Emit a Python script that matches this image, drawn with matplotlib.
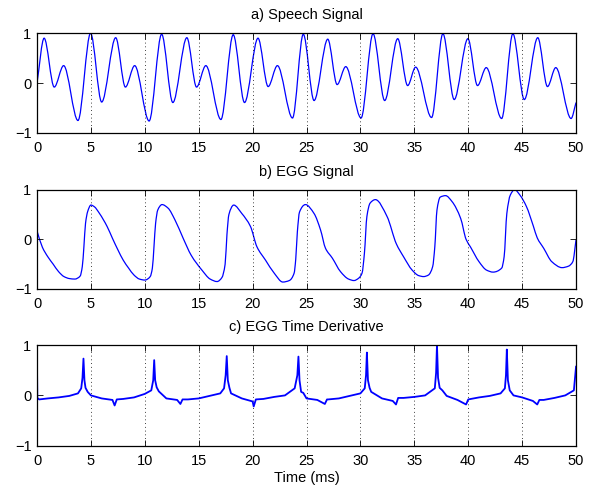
import numpy as np
import matplotlib
matplotlib.use('Agg')
import matplotlib.pyplot as plt
from matplotlib.path import Path
from matplotlib.patches import PathPatch

plt.rcParams['font.family'] = ['Liberation Sans', 'DejaVu Sans']

# a) speech signal, extrema (ms, amplitude)
speech_t = [0, 0.66, 1.6, 2.47, 3.8, 4.97, 6.0, 7.3, 8.2, 9.06, 10.4, 11.56,
            12.6, 13.9, 14.8, 15.66, 17.06, 18.2, 19.25, 20.5, 21.44, 22.3,
            23.7, 24.7, 25.7, 26.97, 27.84, 28.64, 30.06, 31.17, 32.25, 33.46,
            34.38, 35.12, 36.6, 37.65, 38.7, 39.97, 40.86, 41.67, 43.1, 44.14,
            45.2, 46.45, 47.35, 48.12, 49.54, 50]
speech_v = [0.0, 0.9, -0.08, 0.35, -0.75, 1.0, -0.38, 0.91, -0.08, 0.35, -0.76,
            0.98, -0.39, 0.91, -0.08, 0.35, -0.73, 0.97, -0.39, 0.9, -0.07,
            0.35, -0.7, 0.98, -0.35, 0.88, -0.03, 0.33, -0.7, 0.99, -0.35,
            0.89, -0.05, 0.32, -0.69, 0.99, -0.33, 0.89, -0.05, 0.31, -0.71,
            0.99, -0.33, 0.91, -0.07, 0.31, -0.71, -0.39]

# b) EGG signal
egg_t = [0, 0.5, 1.0, 1.5, 2.0, 2.5, 3.0, 3.5, 4.0, 4.2, 4.35, 4.5, 4.7, 5.0,
         5.3, 5.8, 6.5, 7.0, 7.5, 8.0, 8.5, 9.0, 9.5, 10.0, 10.5, 10.7, 10.85,
         11.0, 11.2, 11.6, 12.15, 12.8, 13.56, 14.3, 15.3, 16.06, 16.7, 17.15,
         17.45, 17.62, 17.8, 18.25, 19.0, 19.8, 20.4, 21.2, 22.0, 22.8, 23.4,
         23.85, 24.0, 24.15, 24.35, 24.9, 25.7, 26.3, 26.76, 27.4, 28.15, 28.9,
         29.4, 29.85, 30.15, 30.37, 30.6, 30.9, 31.39, 32.47, 33.33, 34.0,
         34.8, 35.4, 35.86, 36.3, 36.7, 36.9, 37.1, 37.4, 37.9, 38.5, 39.3,
         39.8, 40.2, 41.0, 41.7, 42.3, 43.1, 43.33, 43.58, 43.9, 44.3, 44.8,
         45.4, 46.05, 46.4, 47.0, 47.75, 48.7, 49.3, 49.7, 50]
egg_v = [0.17, -0.16, -0.35, -0.5, -0.65, -0.75, -0.79, -0.8, -0.74, -0.55,
         -0.15, 0.32, 0.56, 0.69, 0.66, 0.52, 0.26, 0.02, -0.21, -0.42, -0.58,
         -0.72, -0.8, -0.82, -0.75, -0.58, -0.15, 0.32, 0.59, 0.7, 0.63, 0.39,
         0.02, -0.32, -0.62, -0.8, -0.85, -0.77, -0.5, 0.1, 0.5, 0.69, 0.52,
         0.26, -0.15, -0.42, -0.68, -0.86, -0.83, -0.68, -0.4, 0.15, 0.55,
         0.7, 0.52, 0.19, -0.18, -0.38, -0.65, -0.8, -0.83, -0.78, -0.68,
         -0.28, 0.46, 0.73, 0.8, 0.46, -0.09, -0.35, -0.62, -0.73, -0.75,
         -0.72, -0.55, -0.15, 0.59, 0.85, 0.88, 0.76, 0.42, 0.0, -0.15, -0.45,
         -0.62, -0.66, -0.58, -0.35, 0.52, 0.89, 1.0, 0.89, 0.66, 0.26, 0.03,
         -0.18, -0.45, -0.57, -0.54, -0.45, -0.01]

# c) EGG time derivative
deg_t = [0, 0.03, 0.2, 1.0, 2.0, 3.0, 3.8, 4.1, 4.22, 4.31, 4.4, 4.5, 4.7,
         5.0, 6.0, 7.0, 7.2, 7.4, 8.0, 9.0, 10.0, 10.6, 10.78, 10.87, 10.96,
         11.1, 11.3, 12.0, 13.0, 13.3, 13.5, 14.0, 15.0, 16.0, 17.0, 17.35,
         17.5, 17.6, 17.7, 17.85, 18.0, 19.0, 20.0, 20.1, 20.3, 21.0, 22.0,
         23.0, 23.9, 24.15, 24.25, 24.35, 24.5, 24.7, 25.0, 26.0, 26.7, 26.9,
         27.0, 28.0, 29.0, 30.0, 30.4, 30.52, 30.6, 30.7, 30.85, 31.0, 32.0,
         33.0, 33.3, 33.5, 34.0, 35.0, 36.0, 36.9, 37.02, 37.1, 37.2, 37.35,
         37.6, 38.0, 39.0, 39.8, 40.0, 41.0, 42.0, 43.0, 43.4, 43.5, 43.58,
         43.68, 43.85, 44.2, 45.0, 46.0, 46.4, 46.6, 47.0, 48.0, 49.0, 49.8,
         50]
deg_v = [0.6, -0.05, -0.08, -0.06, -0.04, -0.01, 0.04, 0.14, 0.35, 0.73,
         0.3, 0.15, 0.07, 0.0, -0.06, -0.09, -0.2, -0.08, -0.07, -0.04, 0.03,
         0.1, 0.3, 0.7, 0.3, 0.16, 0.08, -0.06, -0.09, -0.17, -0.08, -0.08,
         -0.06, -0.01, 0.04, 0.14, 0.4, 0.78, 0.3, 0.15, 0.04, -0.06, -0.12,
         -0.22, -0.08, -0.07, -0.03, 0.0, 0.14, 0.4, 0.77, 0.3, 0.07, 0.05,
         -0.06, -0.09, -0.17, -0.08, -0.08, -0.06, -0.01, 0.04, 0.14, 0.4,
         0.85, 0.3, 0.15, 0.07, -0.06, -0.11, -0.18, -0.05, -0.05, -0.03,
         0.0, 0.14, 0.45, 1.0, 0.35, 0.15, 0.1, -0.01, -0.09, -0.18, -0.08,
         -0.04, -0.01, 0.04, 0.14, 0.4, 0.91, 0.3, 0.1, 0.0, -0.04, -0.11,
         -0.18, -0.09, -0.09, -0.05, 0.0, 0.1, 0.57]

titles = ['a) Speech Signal', 'b) EGG Signal', 'c) EGG Time Derivative']
x_ticks = list(range(0, 51, 5))
y_ticks = [-1, 0, 1]

BLUE = '#0000ff'


def smooth_curve(ax, xs, ys, lw=0.9):
    '''
    Draws a smooth line through the read points with cubic Bezier
    segments (flat at the turning points, like a monotone spline).
    '''
    xs = np.asarray(xs, float)
    ys = np.asarray(ys, float)
    h = np.diff(xs)
    d = np.diff(ys) / h
    m = np.zeros_like(xs)
    m[0], m[-1] = d[0], d[-1]
    for k in range(1, len(xs) - 1):
        if d[k - 1] * d[k] > 0:
            w1 = 2 * h[k] + h[k - 1]
            w2 = h[k] + 2 * h[k - 1]
            m[k] = (w1 + w2) / (w1 / d[k - 1] + w2 / d[k])
    verts = [(xs[0], ys[0])]
    codes = [Path.MOVETO]
    for k in range(len(h)):
        verts += [(xs[k] + h[k] / 3, ys[k] + m[k] * h[k] / 3),
                  (xs[k + 1] - h[k] / 3, ys[k + 1] - m[k + 1] * h[k] / 3),
                  (xs[k + 1], ys[k + 1])]
        codes += [Path.CURVE4] * 3
    ax.add_patch(PathPatch(Path(verts, codes), fill=False,
                           edgecolor=BLUE, lw=lw, clip_on=True))


fig = plt.figure(figsize=(5.93, 4.88), dpi=100)
boxes = [[0.0624, 0.7275, 0.9090, 0.2045],
         [0.0624, 0.4078, 0.9090, 0.2035],
         [0.0624, 0.0865, 0.9090, 0.2065]]

axes = [fig.add_axes(b) for b in boxes]
smooth_curve(axes[0], speech_t, speech_v)
smooth_curve(axes[1], egg_t, egg_v)
axes[2].plot(deg_t, deg_v, color=BLUE, lw=1.3)

for ax, title in zip(axes, titles):
    ax.set_xlim(0, 50)
    ax.set_ylim(-1, 1)
    ax.set_xticks(x_ticks)
    ax.set_yticks(y_ticks)
    ax.set_yticklabels(['\u22121', '0', '1'])
    ax.tick_params(direction='in', length=4, width=0.6, labelsize=10.5,
                   top=True, right=True)
    ax.tick_params(axis='x', pad=6)
    ax.tick_params(axis='y', pad=4)
    ax.xaxis.grid(True, linestyle=(0, (1, 3.5)), color='black', lw=0.6)
    for s in ax.spines.values():
        s.set_linewidth(0.9)
    ax.set_title(title, fontsize=10.5, pad=10)

axes[2].set_xlabel('Time (ms)', fontsize=10.5, labelpad=2)

fig.savefig('out.png', dpi=100)
